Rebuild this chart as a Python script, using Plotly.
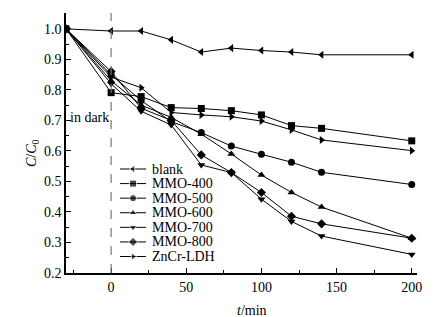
import plotly.graph_objects as go

time_min = [-30, 0, 20, 40, 60, 80, 100, 120, 140, 200]
blank   = [1.0, 0.993, 0.993, 0.964, 0.924, 0.937, 0.929, 0.924, 0.915, 0.915]
mmo400  = [1.0, 0.791, 0.778, 0.742, 0.739, 0.732, 0.718, 0.683, 0.674, 0.633]
mmo500  = [1.0, 0.850, 0.765, 0.696, 0.660, 0.616, 0.589, 0.563, 0.530, 0.490]
mmo600  = [1.0, 0.830, 0.750, 0.710, 0.655, 0.590, 0.521, 0.464, 0.416, 0.314]
mmo700  = [1.0, 0.820, 0.730, 0.685, 0.554, 0.529, 0.442, 0.369, 0.321, 0.261]
mmo800  = [1.0, 0.860, 0.740, 0.700, 0.587, 0.529, 0.464, 0.386, 0.361, 0.314]
zncr    = [1.0, 0.842, 0.807, 0.726, 0.718, 0.712, 0.698, 0.669, 0.636, 0.601]

names = ["blank", "MMO-400", "MMO-500", "MMO-600", "MMO-700", "MMO-800", "ZnCr-LDH"]
series = [blank, mmo400, mmo500, mmo600, mmo700, mmo800, zncr]
symbols = ["triangle-left", "square", "circle", "triangle-up", "triangle-down", "diamond", "triangle-right"]

y_ticks = [0.2, 0.3, 0.4, 0.5, 0.6, 0.7, 0.8, 0.9, 1.0]
x_ticks = [0, 50, 100, 150, 200]

FONT = "Liberation Serif"
XR = [-30, 203.5]
YR = [0.2, 1.052]

fig = go.Figure()
for n, s, sym in zip(names, series, symbols):
    fig.add_trace(go.Scatter(
        x=time_min, y=s, mode="lines+markers", name=n,
        line=dict(color="black", width=1),
        marker=dict(symbol=sym, size=7, color="black"),
        showlegend=False,
    ))

# manual legend in paper-space via overlay axes
leg_x0, leg_x1, txt_x = 0.154, 0.228, 0.24
row0, row_h = 0.4, 0.0561
for i, (n, sym) in enumerate(zip(names, symbols)):
    yy = row0 - i * row_h
    fig.add_trace(go.Scatter(
        x=[leg_x0, (leg_x0 + leg_x1) / 2, leg_x1], y=[yy, yy, yy],
        mode="lines+markers", xaxis="x2", yaxis="y2",
        line=dict(color="black", width=1),
        marker=dict(symbol=sym, size=[0, 7, 0], color="black"),
        showlegend=False, hoverinfo="skip",
    ))
    fig.add_annotation(x=txt_x, y=yy, xref="x2", yref="y2", text=n,
                       showarrow=False, xanchor="left", yanchor="middle",
                       font=dict(family=FONT, size=14, color="black"))

fig.add_shape(type="line", x0=0, x1=0, y0=0, y1=1, xref="x", yref="paper",
              line=dict(color="#777777", width=1.2, dash="dash"))

fig.add_annotation(x=-29, y=0.708, text="in dark", showarrow=False,
                   xanchor="left", yanchor="middle",
                   font=dict(family=FONT, size=14, color="black"))
fig.add_annotation(x=0.53, y=-0.108, xref="paper", yref="paper",
                   text="<i>t</i>/min", showarrow=False,
                   xanchor="center", yanchor="top",
                   font=dict(family=FONT, size=14, color="black"))
fig.add_annotation(x=-0.095, y=0.46, xref="paper", yref="paper",
                   text="<i>C</i>/<i>C</i><sub>0</sub>", showarrow=False,
                   textangle=-90, xanchor="center", yanchor="middle",
                   font=dict(family=FONT, size=14, color="black"))

axis_common = dict(showgrid=False, zeroline=False, showline=True, linecolor="black",
                   linewidth=1.5, ticks="inside", ticklen=5, tickwidth=1.2,
                   tickcolor="black", tickfont=dict(family=FONT, size=14, color="black"),
                   mirror=False)
fig.update_layout(
    width=433, height=309,
    margin=dict(l=58, r=24, t=5, b=44),
    paper_bgcolor="white", plot_bgcolor="white",
    xaxis=dict(range=XR, tickvals=x_ticks, ticktext=[str(v) for v in x_ticks],
               minor=dict(ticks="inside", ticklen=3, dtick=25, tick0=0,
                          tickcolor="black"),
               **axis_common),
    yaxis=dict(range=YR, tickvals=y_ticks, ticktext=[f"{v:.1f}" for v in y_ticks],
               minor=dict(ticks="inside", ticklen=3, dtick=0.05, tick0=0,
                          tickcolor="black"),
               **axis_common),
    xaxis2=dict(range=[0, 1], overlaying="x", visible=False, fixedrange=True),
    yaxis2=dict(range=[0, 1], overlaying="y", visible=False, fixedrange=True),
    showlegend=False,
)
fig.write_html("out.html")
